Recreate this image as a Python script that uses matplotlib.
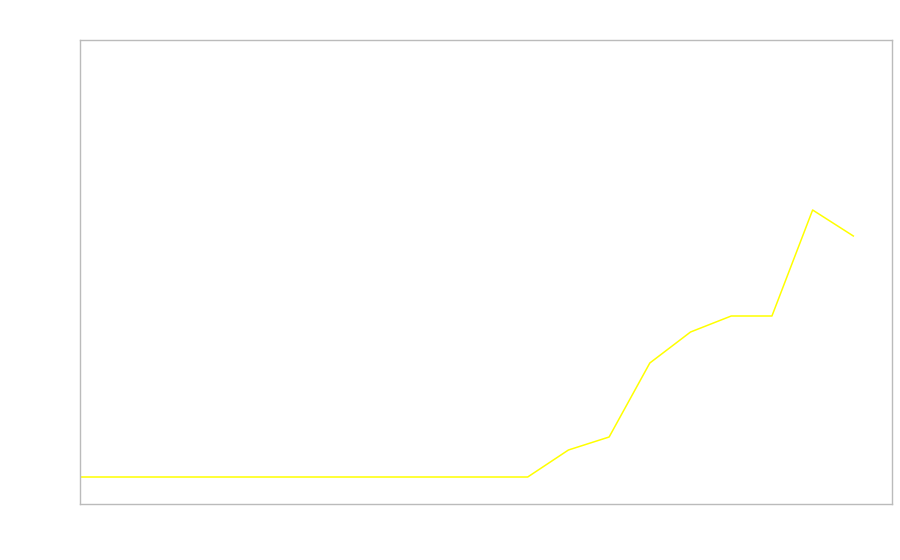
import matplotlib
matplotlib.use("Agg")
import matplotlib.pyplot as plt

# --- Data ------------------------------------------------------------------
periods = list(range(20))
values = [0, 0, 0, 0, 0, 0, 0, 0, 0, 0, 0, 0,
          2.7, 4.0, 11.4, 14.5, 16.1, 16.1, 26.7, 24.1]

# --- Plot ------------------------------------------------------------------
fig = plt.figure(figsize=(9, 5.6), dpi=100)
ax = fig.add_axes([80 / 900, 56 / 560, 812 / 900, 464 / 560])

ax.plot(periods, values, color="#ffff00", linewidth=1.1)

ax.set_xlim(0, 19.95)
ax.set_ylim(-2.7, 43.7)
ax.set_xticks([])
ax.set_yticks([])
for sp in ax.spines.values():
    sp.set_color("#bbbbbb")
    sp.set_linewidth(1)

fig.savefig("out.png", dpi=100, facecolor="white")
